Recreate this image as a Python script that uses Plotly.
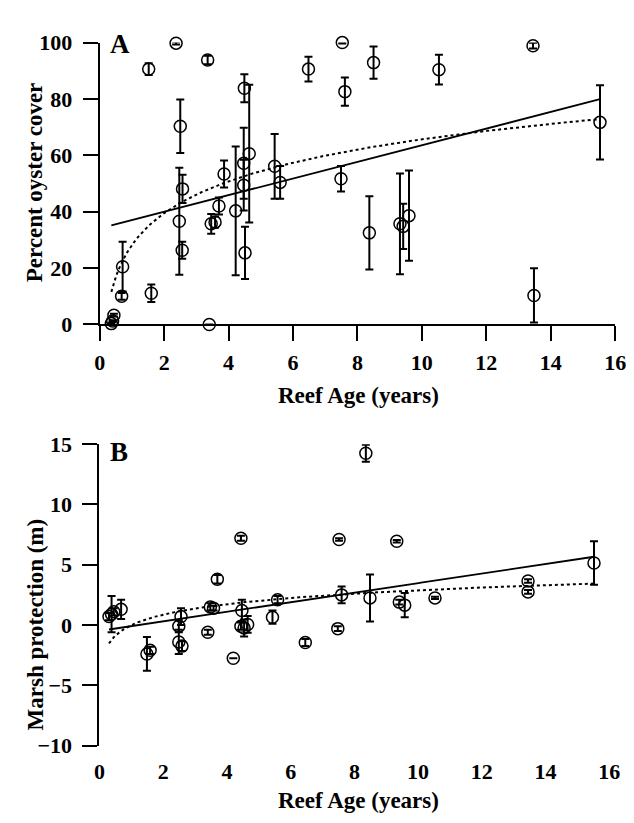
import numpy as np
import plotly.graph_objects as go

# ---------------- Panel A: percent oyster cover ----------------
age_A = [0.36, 0.40, 0.44, 0.68, 0.71, 1.52, 1.60, 2.37, 2.50, 2.47, 2.57, 2.56,
         3.35, 3.40, 3.46, 3.58, 3.70, 3.86, 4.22, 4.49, 4.47, 4.47, 4.51, 4.64,
         5.43, 5.60, 6.48, 7.53, 7.61, 7.49, 8.37, 8.50, 9.32, 9.42, 9.60, 10.53,
         13.45, 13.48, 15.53]
cover_A = [0.3, 1.2, 3.3, 10.0, 20.5, 90.6, 11.1, 99.8, 70.3, 36.6, 48.1, 26.3,
           93.8, 0.0, 35.7, 36.3, 42.0, 53.4, 40.3, 83.8, 57.2, 49.4, 25.4, 60.6,
           56.1, 50.4, 90.6, 100.0, 82.6, 51.7, 32.5, 92.9, 35.7, 34.8, 38.6, 90.4,
           98.9, 10.3, 71.7]
err_A = [0.3, 0.3, 0.5, 1.2, 8.8, 2.1, 3.1, 0.5, 9.5, 19.0, 5.0, 3.0,
         1.5, 0.0, 3.5, 2.0, 3.0, 4.8, 22.8, 5.0, 12.6, 9.0, 9.3, 24.4,
         11.5, 5.8, 4.4, 0.3, 5.0, 4.5, 13.0, 5.7, 17.9, 8.0, 16.0, 5.3,
         1.0, 9.6, 13.2]

# ---------------- Panel B: marsh protection ----------------
age_B = [0.30, 0.38, 0.45, 0.68, 1.49, 1.59, 2.49, 2.49, 2.59, 2.56,
         3.40, 3.48, 3.58, 3.70, 4.20, 4.44, 4.47, 4.44, 4.54, 4.65,
         5.43, 5.59, 6.46, 7.48, 7.52, 7.60, 8.36, 8.49, 9.33, 9.41,
         9.58, 10.53, 13.45, 13.45, 15.52]
prot_B = [0.7, 0.9, 1.1, 1.3, -2.4, -2.1, -0.1, -1.4, -1.75, 0.7,
          -0.6, 1.5, 1.4, 3.8, -2.75, 7.2, 1.2, -0.1, -0.25, 0.05,
          0.65, 2.1, -1.45, -0.3, 7.1, 2.5, 14.25, 2.25, 6.95, 1.9,
          1.65, 2.25, 3.65, 2.75, 5.15]
err_B = [0.3, 1.5, 0.3, 0.8, 1.4, 0.3, 0.5, 1.0, 0.4, 0.7,
         0.2, 0.3, 0.2, 0.35, 0.0, 0.2, 0.9, 0.3, 0.7, 0.7,
         0.55, 0.3, 0.3, 0.2, 0.1, 0.7, 0.7, 1.95, 0.1, 0.2,
         1.0, 0.1, 0.15, 0.15, 1.8]

x_ticks = [0, 2, 4, 6, 8, 10, 12, 14, 16]
y_ticks_A = [0, 20, 40, 60, 80, 100]
y_ticks_B = [-10, -5, 0, 5, 10, 15]

FONT = "Liberation Serif"
W, H = 634, 823


def fits(x, y):
    x = np.asarray(x, float)
    y = np.asarray(y, float)
    m, c = np.polyfit(x, y, 1)
    pos = x > 0
    b, a = np.polyfit(np.log(x[pos]), y[pos], 1)
    xs = np.linspace(x.min(), x.max(), 200)
    return xs, m * xs + c, a + b * np.log(xs)


fig = go.Figure()


def add_panel(x, y, e, xa, ya):
    fig.add_trace(go.Scatter(
        x=x, y=y, mode="markers", xaxis=xa, yaxis=ya, cliponaxis=False,
        marker=dict(symbol="circle-open", size=12, color="black",
                    line=dict(width=1.5, color="black")),
        error_y=dict(type="data", array=e, visible=True, color="black",
                     thickness=2, width=4),
        showlegend=False, hoverinfo="x+y"))
    xs, ylin, ylog = fits(x, y)
    fig.add_trace(go.Scatter(x=xs, y=ylin, mode="lines", xaxis=xa, yaxis=ya,
                             line=dict(color="black", width=1.8),
                             showlegend=False, hoverinfo="skip"))
    fig.add_trace(go.Scatter(x=xs, y=ylog, mode="lines", xaxis=xa, yaxis=ya,
                             line=dict(color="black", width=2, dash="dot"),
                             showlegend=False, hoverinfo="skip"))


add_panel(age_A, cover_A, err_A, "x", "y")
add_panel(age_B, prot_B, err_B, "x3", "y3")

tickfont = dict(family=FONT, size=22, color="black", weight="bold")
common_axis = dict(showgrid=False, zeroline=False, linecolor="black", linewidth=2,
                   ticks="outside", ticklen=15, tickwidth=2, tickcolor="black",
                   tickfont=tickfont)

# pixel geometry
A_x0, A_x1, A_ytop, A_ybot = 88.1, 617.7, 23.3, 314.0
B_x0, B_x1, B_ytop, B_ybot = 87.8, 611.7, 437.5, 748.3
B_zero_px = 624.0

fig.update_layout(
    width=W, height=H, margin=dict(l=0, r=0, t=0, b=0),
    paper_bgcolor="white", plot_bgcolor="white",
    xaxis=dict(domain=[A_x0 / W, A_x1 / W], anchor="y", range=[0, 16],
               tickvals=x_ticks, showline=True, ticklabelstandoff=2, **common_axis),
    yaxis=dict(domain=[1 - A_ybot / H, 1 - A_ytop / H], anchor="x", range=[0, 100],
               tickvals=y_ticks_A, showline=True, ticklabelstandoff=6, **common_axis),
    xaxis3=dict(domain=[B_x0 / W, B_x1 / W], anchor="y3", range=[0, 16],
                tickvals=x_ticks, showline=False, ticklabelstandoff=-9,
                **{**common_axis, "tickcolor": "rgba(0,0,0,0)"}),
    xaxis4=dict(overlaying="x3", anchor="free", position=1 - B_zero_px / H,
                range=[0, 16], tickvals=x_ticks, showline=True,
                showticklabels=False, **common_axis),
    yaxis3=dict(domain=[1 - B_ybot / H, 1 - B_ytop / H], anchor="x3", range=[-10, 15],
                tickvals=y_ticks_B, showline=True, ticklabelstandoff=6, **common_axis),
)

title_font = dict(family=FONT, size=23, color="black", weight="bold")
panel_font = dict(family=FONT, size=27, color="black", weight="bold")
ann = [
    dict(text="A", x=97 / W, y=1 - 25 / H, xanchor="left", yanchor="middle", font=panel_font),
    dict(text="B", x=97 / W, y=1 - 446 / H, xanchor="left", yanchor="middle", font=panel_font),
    dict(text="Percent oyster cover", x=22 / W, y=1 - 167 / H, textangle=-90,
         xanchor="center", yanchor="middle", font=title_font),
    dict(text="Marsh protection (m)", x=22 / W, y=1 - 623 / H, textangle=-90,
         xanchor="center", yanchor="middle", font=title_font),
    dict(text="Reef Age (years)", x=354 / W, y=1 - 387 / H,
         xanchor="center", yanchor="middle", font=title_font),
    dict(text="Reef Age (years)", x=354 / W, y=1 - 805 / H,
         xanchor="center", yanchor="middle", font=title_font),
]
for a in ann:
    a.update(xref="paper", yref="paper", showarrow=False)
fig.update_layout(annotations=ann)

fig.write_html("out.html")
